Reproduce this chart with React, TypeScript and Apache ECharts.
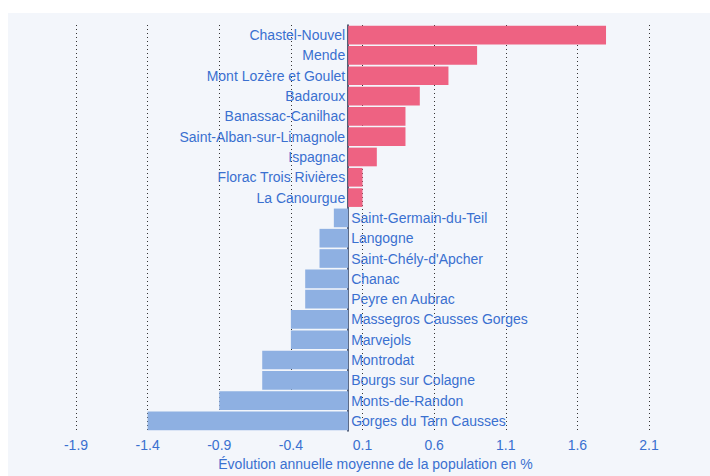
import React, { useEffect, useRef } from "react";
import * as echarts from "echarts";

const communes = [
  "Chastel-Nouvel",
  "Mende",
  "Mont Lozère et Goulet",
  "Badaroux",
  "Banassac-Canilhac",
  "Saint-Alban-sur-Limagnole",
  "Ispagnac",
  "Florac Trois Rivières",
  "La Canourgue",
  "Saint-Germain-du-Teil",
  "Langogne",
  "Saint-Chély-d'Apcher",
  "Chanac",
  "Peyre en Aubrac",
  "Massegros Causses Gorges",
  "Marvejols",
  "Montrodat",
  "Bourgs sur Colagne",
  "Monts-de-Randon",
  "Gorges du Tarn Causses",
];

const evolution = [
  1.8, 0.9, 0.7, 0.5, 0.4, 0.4, 0.2, 0.1, 0.1,
  -0.1, -0.2, -0.2, -0.3, -0.3, -0.4, -0.4, -0.6, -0.6, -0.9, -1.4,
];

const axisMin = -1.9;
const axisMax = 2.1;
const axisStep = 0.5;
const axisTitle = "Évolution annuelle moyenne de la population en %";

const POS_COLOR = "#ee6282";
const NEG_COLOR = "#8eb0e2";
const TEXT_BLUE = "#3a70d0";
const FONT = "'Liberation Sans', Arial, sans-serif";

export default function App() {
  const ref = useRef<HTMLDivElement>(null);

  useEffect(() => {
    if (!ref.current) return;
    const chart = echarts.init(ref.current, undefined, { renderer: "svg" });
    const cats = communes.slice().reverse();
    const vals = evolution.slice().reverse();
    chart.setOption({
      animation: false,
      backgroundColor: "#f3f6fb",
      grid: { left: 68, right: 61, top: 12, bottom: 37, containLabel: false },
      xAxis: {
        type: "value",
        min: axisMin,
        max: axisMax,
        interval: axisStep,
        axisLine: { show: false },
        axisTick: { show: false },
        splitLine: {
          show: true,
          lineStyle: { type: [1, 3], color: "#333", width: 1 },
        },
        axisLabel: {
          color: TEXT_BLUE,
          fontSize: 14,
          fontFamily: FONT,
          margin: 7,
          formatter: (v: number) => v.toFixed(1),
        },
        name: axisTitle,
        nameLocation: "middle",
        nameGap: 25,
        nameTextStyle: {
          color: TEXT_BLUE,
          fontSize: 14,
          fontFamily: FONT,
          padding: [0, 0, 0, 26],
        },
      },
      yAxis: {
        type: "category",
        data: cats,
        axisLine: { show: true, onZero: true, lineStyle: { color: "#1c2b4a", width: 1.5 } },
        axisTick: { show: false },
        axisLabel: { show: false },
        splitLine: { show: false },
      },
      series: [
        {
          type: "bar",
          barCategoryGap: "8%",
          data: vals.map((v) => ({
            value: v,
            itemStyle: { color: v >= 0 ? POS_COLOR : NEG_COLOR },
            label: {
              show: true,
              position: v >= 0 ? "left" : "right",
            },
          })),
          label: {
            show: true,
            distance: 3,
            color: TEXT_BLUE,
            fontSize: 14,
            fontFamily: FONT,
            formatter: (p: any) => cats[p.dataIndex],
          },
          z: 1,
        },
      ],
    });
    return () => chart.dispose();
  }, []);

  return (
    <div
      ref={ref}
      style={{ position: "absolute", left: 8, top: 13, width: 702, height: 463 }}
    />
  );
}
